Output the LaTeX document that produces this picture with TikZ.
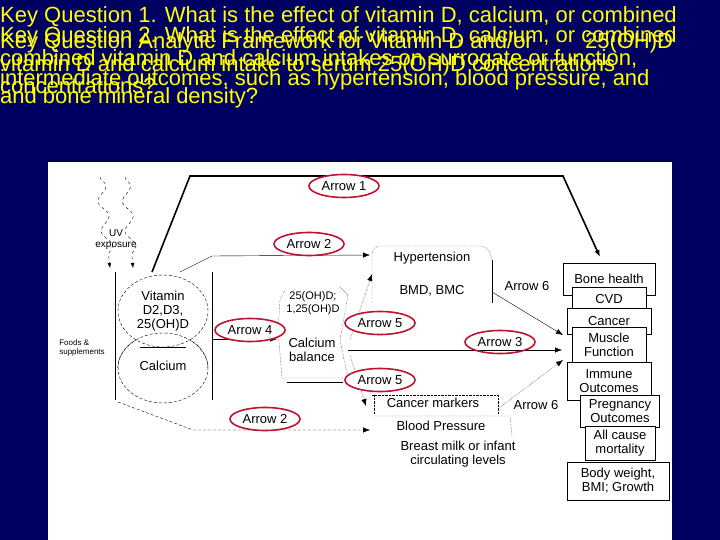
\documentclass[tikz,border=0pt]{standalone}
\usepackage{fontspec}
\setmainfont{Liberation Sans}
\usetikzlibrary{arrows.meta,decorations.pathmorphing}
\definecolor{navy}{RGB}{0,0,96}
\definecolor{ttl}{RGB}{255,255,0}
\definecolor{lab}{RGB}{190,20,50}
\tikzset{
 ttext/.style={anchor=west,text=ttl,font=\fontsize{22}{22}\selectfont,inner sep=0},
 lbl/.style={draw=lab,line width=1.6pt,ellipse,inner sep=0.5pt,minimum width=70pt,minimum height=23pt,font=\fontsize{13}{13}\selectfont,fill=white},
 dtext/.style={font=\fontsize{13}{14}\selectfont,align=center},
 obox/.style={draw,fill=white,font=\fontsize{13}{14}\selectfont,align=center,inner sep=1pt},
 arr/.style={-{Latex[length=7pt]}},
}
\usetikzlibrary{shapes.geometric}
\begin{document}
\begin{tikzpicture}[x=1pt,y=-1pt]
\fill[navy] (0,0) rectangle (720,540);
\useasboundingbox (0,0) rectangle (720,540);
\fill[white] (48,162) rectangle (672,540);
% title (overlapping questions)
\node[ttext] (t1) at (0,17) {Key Question 1. What is the effect of vitamin D, calcium, or combined};
\node[ttext] (t2) at (0,37) {Key Question 2. What is the effect of vitamin D, calcium, or combined};
\node[ttext] (t2b) at (0,43) {Key Question Analytic Framework for Vitamin D and/or \hspace{40pt} 25(OH)D};
\node[ttext] (t3) at (0,60) {combined vitamin D and calcium intakes on surrogate or function,};
\node[ttext] (t3b) at (0,66) {vitamin D and calcium intake to serum 25(OH)D concentrations};
\node[ttext] (t4) at (0,80) {intermediate outcomes, such as hypertension, blood pressure, and};
\node[ttext] (t4b) at (0,86) {concentrations?};
\node[ttext] (t5) at (0,98) {and bone mineral density?};
% left
\node[dtext,font=\fontsize{10}{11}\selectfont] (uv) at (116,240) {UV\\exposure};
\draw[dashed,decorate,decoration={snake,amplitude=5pt,segment length=30pt},-{Latex[length=5pt]}] (100,177) -- (110,268);
\draw[dashed,decorate,decoration={snake,amplitude=5pt,segment length=30pt},-{Latex[length=5pt]}] (125,177) -- (133,268);
\node[dtext,font=\fontsize{8}{9}\selectfont,align=left] (food) at (82,348) {Foods \&\\supplements};
\draw (115,272) -- (115,400) (212,272) -- (212,400);
\node[draw,densely dashed,ellipse,minimum width=90pt,minimum height=70pt] (cal) at (163,368) {};
\node[draw,densely dashed,ellipse,minimum width=90pt,minimum height=72pt,fill=white] (vit) at (163,311) {};
\draw[densely dashed] (cal.west) arc[start angle=180,end angle=0,x radius=45pt,y radius=35pt];
\node[dtext] (vitt) at (163,311) {Vitamin\\D2,D3,\\25(OH)D};
\node[dtext] (calt) at (163,366) {Calcium};
\draw (140,347) -- (186,347);
% middle
\draw[densely dotted] (285,290) -- (280,300) -- (278,330) -- (282,378) -- (348,378) -- (340,340) -- (348,295) -- (340,287);
\node[dtext,font=\fontsize{11}{13}\selectfont] (oh) at (313,303) {25(OH)D;\\1,25(OH)D};
\node[dtext] (cb) at (312,350) {Calcium\\balance};
\draw (287,382) -- (343,382);
% intermediate boxes
\draw[densely dotted,rounded corners=8pt] (372,303) -- (372,246) -- (488,246) -- (492,260);
\draw (492,260) -- (492,303);
\node[dtext] (hyp) at (432,258) {Hypertension};
\node[dtext] (bmd) at (432,291) {BMD, BMC};
\draw[densely dotted] (374,395) -- (374,414) (372,395) -- (498,395) -- (498,414);
\node[dtext] (cm) at (433,403) {Cancer markers};
\node[dtext] (bp) at (441,426) {Blood Pressure};
\draw[densely dotted] (374,416) -- (510,416) -- (512,437);
\node[dtext] (bm) at (458,454) {Breast milk or infant\\circulating levels};
% outcomes stack
\node[obox,minimum width=92pt,minimum height=32pt] (bone) at (609,279) {Bone health};
\node[obox,minimum width=74pt,minimum height=24pt] (cvd) at (609,299) {CVD};
\node[obox,minimum width=84pt,minimum height=26pt] (canc) at (609,321) {Cancer};
\node[obox,minimum width=74pt,minimum height=35pt] (mus) at (609,345) {Muscle\\Function};
\node[obox,minimum width=84pt,minimum height=38pt] (imm) at (609,381) {Immune\\Outcomes};
\node[obox,minimum width=79pt,minimum height=32pt] (preg) at (620,411) {Pregnancy\\Outcomes};
\node[obox,minimum width=70pt,minimum height=34pt] (all) at (620,443) {All cause\\mortality};
\node[obox,minimum width=102pt,minimum height=38pt] (bw) at (618,481) {Body weight,\\BMI; Growth};
% arrows
\coordinate (a1a) at (152,272); \coordinate (a1e) at (600,257);
\draw[line width=1.6pt,arr] (a1a) -- (190,176) -- (563,176) -- (a1e);
\node[lbl] (l1) at (344,186) {Arrow 1};
\coordinate (a2a) at (180,272); \coordinate (a2e) at (370,255);
\draw[arr] (a2a) -- (212,256) -- (a2e);
\node[lbl] (l2) at (309,244) {Arrow 2};
\coordinate (a2b) at (118,402); \coordinate (a2f) at (370,430);
\draw[densely dashed,arr] (a2b) -- (193,430) -- (a2f);
\node[lbl] (l2b) at (265,419) {Arrow 2};
\coordinate (a4a) at (212,339); \coordinate (a4e) at (277,339);
\draw[arr] (a4a) -- (a4e);
\node[lbl] (l4) at (250,330) {Arrow 4};
\coordinate (a3a) at (348,350); \coordinate (a3e) at (562,350);
\draw[arr] (a3a) -- (a3e);
\node[lbl,fill=none] (l3) at (500,342) {Arrow 3};
\draw[densely dotted,arr] (350,340) -- (372,274);
\draw[densely dotted,arr] (350,355) -- (366,406);
\node[lbl] (l5) at (380,323) {Arrow 5};
\node[lbl] (l5b) at (380,380) {Arrow 5};
\draw[arr] (492,292) -- (563,335);
\node[dtext] (a6) at (527,286) {Arrow 6};
\draw[densely dotted,arr] (499,408) -- (563,360);
\node[dtext] (a6b) at (536,405) {Arrow 6};
\end{tikzpicture}
\end{document}
